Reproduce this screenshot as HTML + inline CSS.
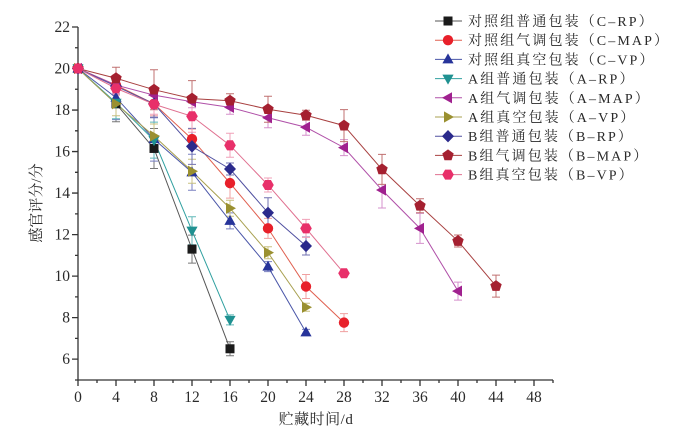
<!DOCTYPE html>
<html><head><meta charset="utf-8"><style>
html,body{margin:0;padding:0;background:#fff;}
svg{display:block;}
text{font-family:"Liberation Serif","Noto Serif CJK SC","Noto Sans CJK SC",serif;fill:#2a2a2a;}
</style></head><body>
<svg width="684" height="433" viewBox="0 0 684 433" xmlns="http://www.w3.org/2000/svg">
<defs>
<g id="sq"><rect x="-4.5" y="-4.5" width="9" height="9"/></g>
<g id="ci"><circle r="5.2"/></g>
<g id="tu"><polygon points="0,-6 5.6,4 -5.6,4"/></g>
<g id="td"><polygon points="-5.6,-4 5.6,-4 0,6"/></g>
<g id="tl"><polygon points="-6,0 4,-5.6 4,5.6"/></g>
<g id="tr"><polygon points="6,0 -4,-5.6 -4,5.6"/></g>
<g id="di"><polygon points="0,-6.2 6,0 0,6.2 -6,0"/></g>
<g id="pe"><polygon points="0,-6 5.71,-1.85 3.53,4.85 -3.53,4.85 -5.71,-1.85"/></g>
<g id="hx"><polygon points="5.8,0 2.9,5.02 -2.9,5.02 -5.8,0 -2.9,-5.02 2.9,-5.02"/></g>
</defs>

<!-- axes -->
<g stroke="#333" stroke-width="1.3" fill="none">
<path d="M78,27V380H553"/>
<path d="M72,27H78M72,68.52H78M72,110.04H78M72,151.56H78M72,193.08H78M72,234.6H78M72,276.12H78M72,317.64H78M72,359.16H78"/>
<path d="M75,47.76H78M75,89.28H78M75,130.8H78M75,172.32H78M75,213.84H78M75,255.36H78M75,296.88H78M75,338.4H78M75,380H78"/>
<path d="M78,380V386M116,380V386M154,380V386M192,380V386M230,380V386M268,380V386M306,380V386M344,380V386M382,380V386M420,380V386M458,380V386M496,380V386M534,380V386"/>
<path d="M97,380V383M135,380V383M173,380V383M211,380V383M249,380V383M287,380V383M325,380V383M363,380V383M401,380V383M439,380V383M477,380V383M515,380V383M553,380V383"/>
</g>
<g font-size="15.5" text-anchor="end">
<text x="70" y="32">22</text><text x="70" y="73.5">20</text><text x="70" y="115">18</text><text x="70" y="156.5">16</text><text x="70" y="198">14</text><text x="70" y="239.6">12</text><text x="70" y="281">10</text><text x="70" y="322.6">8</text><text x="70" y="364">6</text>
</g>
<g font-size="15.5" text-anchor="middle">
<text x="78" y="402">0</text><text x="116" y="402">4</text><text x="154" y="402">8</text><text x="192" y="402">12</text><text x="230" y="402">16</text><text x="268" y="402">20</text><text x="306" y="402">24</text><text x="344" y="402">28</text><text x="382" y="402">32</text><text x="420" y="402">36</text><text x="458" y="402">40</text><text x="496" y="402">44</text><text x="534" y="402">48</text>
</g>
<text x="316" y="424" font-size="15" text-anchor="middle" letter-spacing="0.5">贮藏时间/d</text>
<text transform="translate(41,203) rotate(-90)" font-size="15" text-anchor="middle">感官评分/分</text>

<!-- error bars -->
<g fill="none" stroke-width="1">
<path stroke="#777" d="M116,85.8V121.8M112,85.8h8M112,121.8h8M154,128.5V168.5M150,128.5h8M150,168.5h8M192,235.1V263.1M188,235.1h8M188,263.1h8M230,341.8V355.8M226,341.8h8M226,355.8h8"/>
<path stroke="#f0a0a0" d="M116,75.1V95.1M112,75.1h8M112,95.1h8M154,91.8V115.8M150,91.8h8M150,115.8h8M192,129.1V149.1M188,129.1h8M188,149.1h8M230,168.1V198.1M226,168.1h8M226,198.1h8M268,218.4V238.4M264,218.4h8M264,238.4h8M306,274.5V298.5M302,274.5h8M302,298.5h8M344,313.6V331.6M340,313.6h8M340,331.6h8"/>
<path stroke="#7a80c0" d="M116,75.6V119.6M112,75.6h8M112,119.6h8M154,117.1V161.1M150,117.1h8M150,161.1h8M192,154.3V190.3M188,154.3h8M188,190.3h8M230,212.9V228.9M226,212.9h8M226,228.9h8M268,261.6V271.6M264,261.6h8M264,271.6h8M306,329.4V335.4M302,329.4h8M302,335.4h8"/>
<path stroke="#60b8b8" d="M116,86.8V118.8M112,86.8h8M112,118.8h8M154,122.1V158.1M150,122.1h8M150,158.1h8M192,216.7V244.7M188,216.7h8M188,244.7h8M230,314.9V324.9M226,314.9h8M226,324.9h8"/>
<path stroke="#d590cc" d="M116,77.1V93.1M112,77.1h8M112,93.1h8M154,87.1V103.1M150,87.1h8M150,103.1h8M192,95.7V107.7M188,95.7h8M188,107.7h8M230,100.3V114.3M226,100.3h8M226,114.3h8M268,107.7V127.7M264,107.7h8M264,127.7h8M306,119.3V135.3M302,119.3h8M302,135.3h8M344,139.6V155.6M340,139.6h8M340,155.6h8M382,172V208M378,172h8M378,208h8M420,213.4V243.4M416,213.4h8M416,243.4h8M458,282.1V300.1M454,282.1h8M454,300.1h8"/>
<path stroke="#c8c080" d="M116,91.8V115.8M112,91.8h8M112,115.8h8M154,124V148M150,124h8M150,148h8M192,159.3V183.3M188,159.3h8M188,183.3h8M230,200.2V216.2M226,200.2h8M226,216.2h8M268,246.7V258.7M264,246.7h8M264,258.7h8M306,303.3V311.3M302,303.3h8M302,311.3h8"/>
<path stroke="#7070b0" d="M116,78.2V94.2M112,78.2h8M112,94.2h8M154,89.8V117.8M150,89.8h8M150,117.8h8M192,128.4V164.4M188,128.4h8M188,164.4h8M230,163V175M226,163h8M226,175h8M268,197.8V227.8M264,197.8h8M264,227.8h8M306,237V255M302,237h8M302,255h8"/>
<path stroke="#c07070" d="M116,67.3V89.3M112,67.3h8M112,89.3h8M154,69.7V109.7M150,69.7h8M150,109.7h8M192,80.6V116.6M188,80.6h8M188,116.6h8M230,93.7V107.7M226,93.7h8M226,107.7h8M268,96.2V122.2M264,96.2h8M264,122.2h8M306,110.2V120.2M302,110.2h8M302,120.2h8M344,109.6V141.6M340,109.6h8M340,141.6h8M382,154.4V184.4M378,154.4h8M378,184.4h8M420,198.7V212.7M416,198.7h8M416,212.7h8M458,235V247M454,235h8M454,247h8M496,275.1V297.1M492,275.1h8M492,297.1h8"/>
<path stroke="#f0a0b8" d="M116,82.2V94.2M112,82.2h8M112,94.2h8M154,94.2V114.2M150,94.2h8M150,114.2h8M192,100.3V132.3M188,100.3h8M188,132.3h8M230,133.3V157.3M226,133.3h8M226,157.3h8M268,178V192M264,178h8M264,192h8M306,219.4V237.4M302,219.4h8M302,237.4h8M344,270.2V276.2M340,270.2h8M340,276.2h8"/>
</g>

<!-- lines -->
<g fill="none" stroke-width="1">
<polyline stroke="#555" points="78,68.52 116,103.81 154,148.45 192,249.13 230,348.78"/>
<polyline stroke="#e06050" points="78,68.52 116,85.13 154,103.81 192,139.1 230,183.12 268,228.37 306,286.5 344,322.62"/>
<polyline stroke="#4a56a8" points="78,68.52 116,97.58 154,139.1 192,172.32 230,220.9 268,266.57 306,332.38"/>
<polyline stroke="#30a0a0" points="78,68.52 116,102.77 154,140.14 192,230.66 230,319.92"/>
<polyline stroke="#b050a8" points="78,68.52 116,85.13 154,95.09 192,101.74 230,107.34 268,117.72 306,127.27 344,147.62 382,189.97 420,228.37 458,291.07"/>
<polyline stroke="#a8a050" points="78,68.52 116,103.81 154,135.99 192,171.28 230,208.23 268,252.66 306,307.26"/>
<polyline stroke="#5050a0" points="78,68.52 116,86.17 154,103.81 192,146.37 230,169 268,212.8 306,246.02"/>
<polyline stroke="#a84040" points="78,68.52 116,78.28 154,89.7 192,98.62 230,100.7 268,109.21 306,115.23 344,125.61 382,169.41 420,205.74 458,241.04 496,286.08"/>
<polyline stroke="#e07090" points="78,68.52 116,88.24 154,104.23 192,116.27 230,145.33 268,184.98 306,228.37 344,273.21"/>
</g>

<!-- markers -->
<g fill="#1a1a1a"><use href="#sq" x="78" y="68.52"/><use href="#sq" x="116" y="103.81"/><use href="#sq" x="154" y="148.45"/><use href="#sq" x="192" y="249.13"/><use href="#sq" x="230" y="348.78"/></g>
<g fill="#e8202a"><use href="#ci" x="78" y="68.52"/><use href="#ci" x="116" y="85.13"/><use href="#ci" x="154" y="103.81"/><use href="#ci" x="192" y="139.1"/><use href="#ci" x="230" y="183.12"/><use href="#ci" x="268" y="228.37"/><use href="#ci" x="306" y="286.5"/><use href="#ci" x="344" y="322.62"/></g>
<g fill="#27349a"><use href="#tu" x="78" y="68.52"/><use href="#tu" x="116" y="97.58"/><use href="#tu" x="154" y="139.1"/><use href="#tu" x="192" y="172.32"/><use href="#tu" x="230" y="220.9"/><use href="#tu" x="268" y="266.57"/><use href="#tu" x="306" y="332.38"/></g>
<g fill="#1f9191"><use href="#td" x="78" y="68.52"/><use href="#td" x="116" y="102.77"/><use href="#td" x="154" y="140.14"/><use href="#td" x="192" y="230.66"/><use href="#td" x="230" y="319.92"/></g>
<g fill="#a0218f"><use href="#tl" x="78" y="68.52"/><use href="#tl" x="116" y="85.13"/><use href="#tl" x="154" y="95.09"/><use href="#tl" x="192" y="101.74"/><use href="#tl" x="230" y="107.34"/><use href="#tl" x="268" y="117.72"/><use href="#tl" x="306" y="127.27"/><use href="#tl" x="344" y="147.62"/><use href="#tl" x="382" y="189.97"/><use href="#tl" x="420" y="228.37"/><use href="#tl" x="458" y="291.07"/></g>
<g fill="#9a9030"><use href="#tr" x="78" y="68.52"/><use href="#tr" x="116" y="103.81"/><use href="#tr" x="154" y="135.99"/><use href="#tr" x="192" y="171.28"/><use href="#tr" x="230" y="208.23"/><use href="#tr" x="268" y="252.66"/><use href="#tr" x="306" y="307.26"/></g>
<g fill="#2b2a8c"><use href="#di" x="78" y="68.52"/><use href="#di" x="116" y="86.17"/><use href="#di" x="154" y="103.81"/><use href="#di" x="192" y="146.37"/><use href="#di" x="230" y="169"/><use href="#di" x="268" y="212.8"/><use href="#di" x="306" y="246.02"/></g>
<g fill="#a52030"><use href="#pe" x="78" y="68.52"/><use href="#pe" x="116" y="78.28"/><use href="#pe" x="154" y="89.7"/><use href="#pe" x="192" y="98.62"/><use href="#pe" x="230" y="100.7"/><use href="#pe" x="268" y="109.21"/><use href="#pe" x="306" y="115.23"/><use href="#pe" x="344" y="125.61"/><use href="#pe" x="382" y="169.41"/><use href="#pe" x="420" y="205.74"/><use href="#pe" x="458" y="241.04"/><use href="#pe" x="496" y="286.08"/></g>
<g fill="#e8306a"><use href="#hx" x="78" y="68.52"/><use href="#hx" x="116" y="88.24"/><use href="#hx" x="154" y="104.23"/><use href="#hx" x="192" y="116.27"/><use href="#hx" x="230" y="145.33"/><use href="#hx" x="268" y="184.98"/><use href="#hx" x="306" y="228.37"/><use href="#hx" x="344" y="273.21"/></g>

<!-- legend -->
<g stroke-width="1" fill="none">
<path stroke="#555" d="M435,21H462"/>
<path stroke="#e06050" d="M435,40.2H462"/>
<path stroke="#4a56a8" d="M435,59.4H462"/>
<path stroke="#30a0a0" d="M435,78.6H462"/>
<path stroke="#b050a8" d="M435,97.8H462"/>
<path stroke="#a8a050" d="M435,117H462"/>
<path stroke="#5050a0" d="M435,136.2H462"/>
<path stroke="#a84040" d="M435,155.4H462"/>
<path stroke="#e07090" d="M435,174.6H462"/>
</g>
<use href="#sq" x="448" y="21" fill="#1a1a1a"/>
<use href="#ci" x="448" y="40.2" fill="#e8202a"/>
<use href="#tu" x="448" y="59.4" fill="#27349a"/>
<use href="#td" x="448" y="78.6" fill="#1f9191"/>
<use href="#tl" x="448" y="97.8" fill="#a0218f"/>
<use href="#tr" x="448" y="117" fill="#9a9030"/>
<use href="#di" x="448" y="136.2" fill="#2b2a8c"/>
<use href="#pe" x="448" y="155.4" fill="#a52030"/>
<use href="#hx" x="448" y="174.6" fill="#e8306a"/>
<g font-size="14" letter-spacing="2.1">
<text x="468" y="26">对照组普通包装（C–RP）</text>
<text x="468" y="45.2">对照组气调包装（C–MAP）</text>
<text x="468" y="64.4">对照组真空包装（C–VP）</text>
<text x="468" y="83.6">A组普通包装（A–RP）</text>
<text x="468" y="102.8">A组气调包装（A–MAP）</text>
<text x="468" y="122">A组真空包装（A–VP）</text>
<text x="468" y="141.2">B组普通包装（B–RP）</text>
<text x="468" y="160.4">B组气调包装（B–MAP）</text>
<text x="468" y="179.6">B组真空包装（B–VP）</text>
</g>
</svg>
</body></html>
